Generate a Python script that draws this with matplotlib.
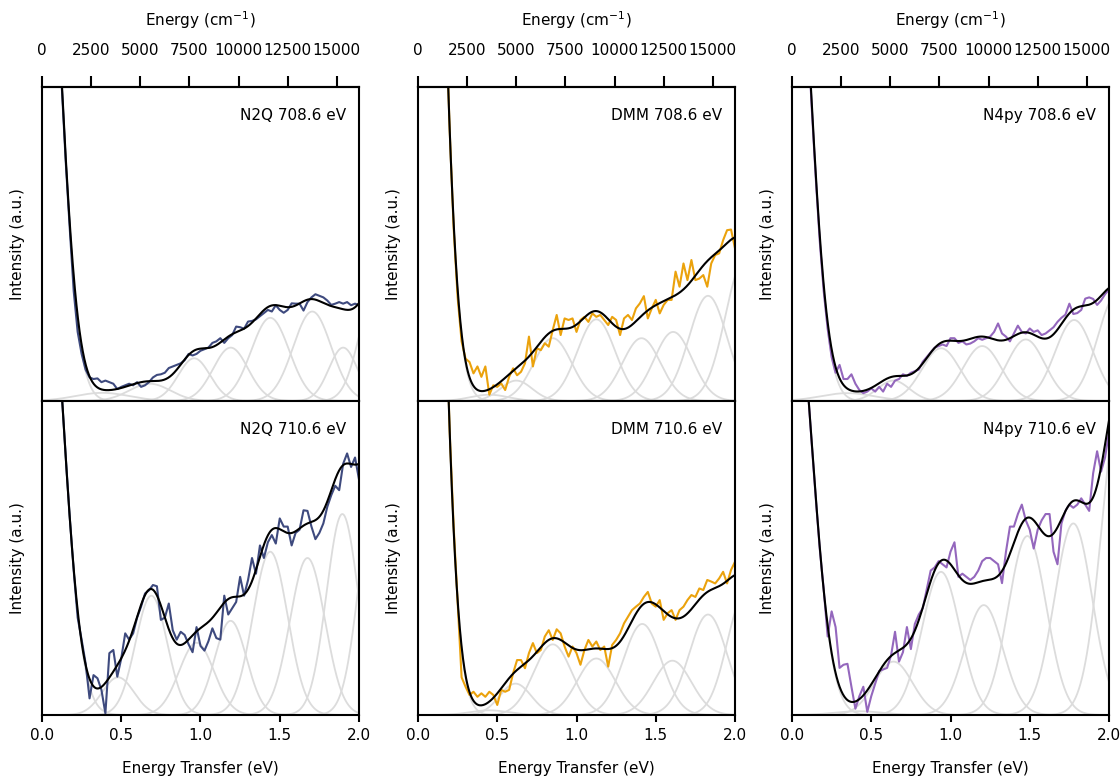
import numpy as np
import matplotlib
matplotlib.use("Agg")
import matplotlib.pyplot as plt

EV_TO_CM = 8065.54

# Energy-transfer sampling of the measured spectra (eV)
energy = np.linspace(0.1, 2.0, 77)

# Measured RIXS intensities (normalised per panel)
n2q_708 = [1.24, 1.00, 0.76, 0.55,
           0.35, 0.22, 0.15, 0.10, 0.075, 0.07, 0.072, 0.06,
           0.065, 0.06, 0.055, 0.038, 0.045, 0.05, 0.055, 0.05,
           0.06, 0.045, 0.05, 0.06, 0.075, 0.083, 0.085, 0.09,
           0.105, 0.11, 0.115, 0.12, 0.13, 0.15, 0.145, 0.15,
           0.16, 0.165, 0.17, 0.185, 0.19, 0.20, 0.185, 0.20,
           0.21, 0.237, 0.235, 0.23, 0.253, 0.255, 0.26, 0.27,
           0.28, 0.29, 0.285, 0.305, 0.29, 0.281, 0.29, 0.311,
           0.31, 0.31, 0.288, 0.315, 0.33, 0.34, 0.335, 0.33,
           0.32, 0.306, 0.31, 0.315, 0.31, 0.315, 0.305, 0.31,
           0.305]
n2q_710 = [1.23, 1.02, 0.82, 0.63,
           0.46, 0.31, 0.24, 0.165, 0.053, 0.127, 0.117, 0.08,
           0.005, 0.197, 0.207, 0.122, 0.18, 0.26, 0.24, 0.26,
           0.31, 0.345, 0.387, 0.397, 0.414, 0.41, 0.303, 0.31,
           0.355, 0.27, 0.24, 0.265, 0.255, 0.225, 0.20, 0.28,
           0.22, 0.205, 0.235, 0.276, 0.245, 0.24, 0.38, 0.32,
           0.34, 0.36, 0.44, 0.38, 0.43, 0.50, 0.45, 0.54,
           0.50, 0.55, 0.573, 0.546, 0.626, 0.60, 0.60, 0.54,
           0.58, 0.59, 0.652, 0.65, 0.60, 0.56, 0.58, 0.61,
           0.663, 0.70, 0.73, 0.716, 0.80, 0.833, 0.79, 0.82,
           0.75]
dmm_708 = [2.84, 2.27, 1.72, 1.25,
           0.86, 0.55, 0.33, 0.19, 0.135, 0.124, 0.088, 0.11,
           0.077, 0.11, 0.02, 0.05, 0.045, 0.056, 0.035, 0.077,
           0.104, 0.082, 0.093, 0.12, 0.205, 0.11, 0.168, 0.162,
           0.184, 0.173, 0.226, 0.274, 0.21, 0.263, 0.258, 0.263,
           0.22, 0.258, 0.268, 0.252, 0.279, 0.268, 0.274, 0.258,
           0.242, 0.268, 0.258, 0.21, 0.263, 0.274, 0.258, 0.295,
           0.311, 0.334, 0.263, 0.295, 0.322, 0.279, 0.306, 0.322,
           0.322, 0.412, 0.364, 0.438, 0.385, 0.449, 0.385, 0.39,
           0.401, 0.364, 0.438, 0.465, 0.47, 0.512, 0.544, 0.546,
           0.486]
dmm_710 = [3.05, 2.44, 1.84, 1.33,
           0.90, 0.60, 0.36, 0.12, 0.09, 0.064, 0.074, 0.058,
           0.069, 0.058, 0.074, 0.064, 0.032, 0.08, 0.074, 0.08,
           0.133, 0.175, 0.175, 0.149, 0.197, 0.229, 0.197, 0.207,
           0.25, 0.27, 0.239, 0.273, 0.26, 0.218, 0.186, 0.218,
           0.197, 0.16, 0.207, 0.239, 0.218, 0.234, 0.207, 0.218,
           0.154, 0.223, 0.239, 0.26, 0.292, 0.313, 0.334, 0.345,
           0.355, 0.376, 0.392, 0.355, 0.345, 0.366, 0.303, 0.324,
           0.334, 0.303, 0.334, 0.345, 0.366, 0.382, 0.376, 0.403,
           0.398, 0.43, 0.425, 0.419, 0.435, 0.456, 0.419, 0.462,
           0.488]
n4py_708 = [1.17, 0.93, 0.71, 0.51,
            0.35, 0.23, 0.14, 0.09, 0.115, 0.07, 0.07, 0.085,
            0.055, 0.035, 0.025, 0.03, 0.04, 0.03, 0.045, 0.03,
            0.055, 0.045, 0.065, 0.07, 0.085, 0.08, 0.09, 0.095,
            0.10, 0.125, 0.14, 0.155, 0.17, 0.175, 0.18, 0.175,
            0.20, 0.20, 0.185, 0.19, 0.18, 0.183, 0.19, 0.20,
            0.195, 0.20, 0.205, 0.22, 0.247, 0.215, 0.205, 0.19,
            0.215, 0.24, 0.22, 0.215, 0.231, 0.22, 0.225, 0.21,
            0.215, 0.225, 0.235, 0.252, 0.265, 0.275, 0.31, 0.277,
            0.28, 0.29, 0.326, 0.33, 0.325, 0.306, 0.32, 0.34,
            0.355]
n4py_710 = [1.04, 0.86, 0.69, 0.53,
            0.40, 0.25, 0.33, 0.28, 0.15, 0.16, 0.163, 0.09,
            0.02, 0.06, 0.09, 0.01, 0.06, 0.10, 0.14, 0.145,
            0.15, 0.19, 0.265, 0.17, 0.20, 0.28, 0.21, 0.29,
            0.32, 0.34, 0.40, 0.46, 0.47, 0.49, 0.48, 0.47,
            0.52, 0.55, 0.44, 0.45, 0.44, 0.43, 0.44, 0.46,
            0.49, 0.50, 0.50, 0.49, 0.48, 0.42, 0.52, 0.60,
            0.60, 0.64, 0.67, 0.62, 0.59, 0.53, 0.59, 0.62,
            0.64, 0.64, 0.52, 0.48, 0.61, 0.65, 0.67, 0.66,
            0.67, 0.69, 0.67, 0.65, 0.77, 0.84, 0.775, 0.82,
            0.90]

# Fitted elastic line: (centre eV, height, sigma eV)
n2q_708_elastic = (0.0, 1.84, 0.113)
n2q_710_elastic = (0.0, 1.70, 0.124)
dmm_708_elastic = (0.0, 4.24, 0.112)
dmm_710_elastic = (0.0, 4.57, 0.111)
n4py_708_elastic = (0.0, 1.74, 0.112)
n4py_710_elastic = (0.0, 1.43, 0.1245)

# Fitted d-d / charge-transfer bands: (centre eV, height, sigma eV)
n2q_708_bands = [(0.38, 0.026, 0.17), (0.68, 0.055, 0.13), (0.96, 0.136, 0.10),
                 (1.19, 0.17, 0.11), (1.44, 0.265, 0.12), (1.705, 0.285, 0.12),
                 (1.90, 0.17, 0.09), (2.10, 0.34, 0.10)]
n2q_710_bands = [(0.48, 0.12, 0.10), (0.69, 0.38, 0.10), (0.975, 0.23, 0.11),
                 (1.19, 0.30, 0.10), (1.44, 0.52, 0.11), (1.675, 0.50, 0.11),
                 (1.895, 0.64, 0.10), (2.10, 0.70, 0.10)]
dmm_708_bands = [(0.45, 0.02, 0.12), (0.62, 0.065, 0.10), (0.85, 0.20, 0.12),
                 (1.125, 0.26, 0.12), (1.41, 0.20, 0.12), (1.61, 0.22, 0.12),
                 (1.83, 0.335, 0.12), (2.06, 0.45, 0.12)]
dmm_710_bands = [(0.45, 0.015, 0.12), (0.615, 0.10, 0.10), (0.85, 0.225, 0.12),
                 (1.125, 0.18, 0.12), (1.415, 0.29, 0.12), (1.605, 0.173, 0.12),
                 (1.83, 0.32, 0.12), (2.06, 0.38, 0.11)]
n4py_708_bands = [(0.35, 0.025, 0.17), (0.64, 0.065, 0.10), (0.94, 0.168, 0.12),
                  (1.20, 0.175, 0.12), (1.475, 0.196, 0.12), (1.78, 0.258, 0.12),
                  (2.05, 0.34, 0.12)]
n4py_710_bands = [(0.42, 0.012, 0.15), (0.64, 0.17, 0.12), (0.94, 0.456, 0.12),
                  (1.21, 0.35, 0.12), (1.485, 0.57, 0.12), (1.775, 0.61, 0.12),
                  (2.08, 1.04, 0.12)]

samples = ["N2Q", "DMM", "N4py"]
sample_colors = ["#3e4a7e", "#eba20c", "#9467bd"]
incident = ["708.6", "710.6"]
spectra = [[(n2q_708, n2q_708_elastic, n2q_708_bands), (n2q_710, n2q_710_elastic, n2q_710_bands)],
           [(dmm_708, dmm_708_elastic, dmm_708_bands), (dmm_710, dmm_710_elastic, dmm_710_bands)],
           [(n4py_708, n4py_708_elastic, n4py_708_bands), (n4py_710, n4py_710_elastic, n4py_710_bands)]]


def gaussian(x, centre, height, sigma):
    return height * np.exp(-(x - centre) ** 2 / (2 * sigma ** 2))


plt.rcParams["font.family"] = "DejaVu Sans"
plt.rcParams["font.size"] = 11

W, H = 1120, 776
fig = plt.figure(figsize=(W / 100, H / 100), dpi=100)

col_left = [42, 418, 792]
col_w = 317
row_top = [87, 401]
row_h = 314

xf = np.linspace(0.0, 2.0, 600)
band_color = "#dcdcdc"

for c in range(3):
    top_ax = None
    for r in range(2):
        left = col_left[c] / W
        bottom = 1 - (row_top[r] + row_h) / H
        ax = fig.add_axes([left, bottom, col_w / W, row_h / H], sharex=top_ax)
        if top_ax is None:
            top_ax = ax
        data, elastic, bands = spectra[c][r]

        fit = gaussian(xf, *elastic)
        ax.plot(xf, gaussian(xf, *elastic), color=band_color, lw=1.3, zorder=1)
        for b in bands:
            comp = gaussian(xf, *b)
            fit = fit + comp
            ax.plot(xf, comp, color=band_color, lw=1.3, zorder=1)

        ax.plot(energy, data, color=sample_colors[c], lw=1.5, zorder=2)
        ax.plot(xf, fit, color="black", lw=1.5, zorder=3)

        ax.set_xlim(0, 2.0)
        ax.set_ylim(0, 1.0)
        ax.set_yticks([])
        ax.set_ylabel("Intensity (a.u.)", labelpad=12)
        for s in ax.spines.values():
            s.set_linewidth(1.5)
        ax.text(0.96, 0.91, f"{samples[c]} {incident[r]} eV", transform=ax.transAxes,
                ha="right", va="center", fontsize=11)

        if r == 0:
            ax.tick_params(axis="x", bottom=False, labelbottom=False)
            sec = ax.secondary_xaxis("top", functions=(lambda e: e * EV_TO_CM,
                                                       lambda k: k / EV_TO_CM))
            sec.set_xticks(np.arange(0, 15001, 2500))
            sec.tick_params(direction="out", length=8, width=1.5, pad=13)
            sec.spines["top"].set_linewidth(1.5)
            sec.set_xlabel("Energy (cm$^{-1}$)", labelpad=12)
        else:
            ax.set_xticks([0.0, 0.5, 1.0, 1.5, 2.0])
            ax.set_xticklabels(["0.0", "0.5", "1.0", "1.5", "2.0"])
            ax.tick_params(axis="x", direction="out", length=5, width=1.5, pad=4)
            ax.set_xlabel("Energy Transfer (eV)", labelpad=13)

fig.savefig("out.png", dpi=100)
